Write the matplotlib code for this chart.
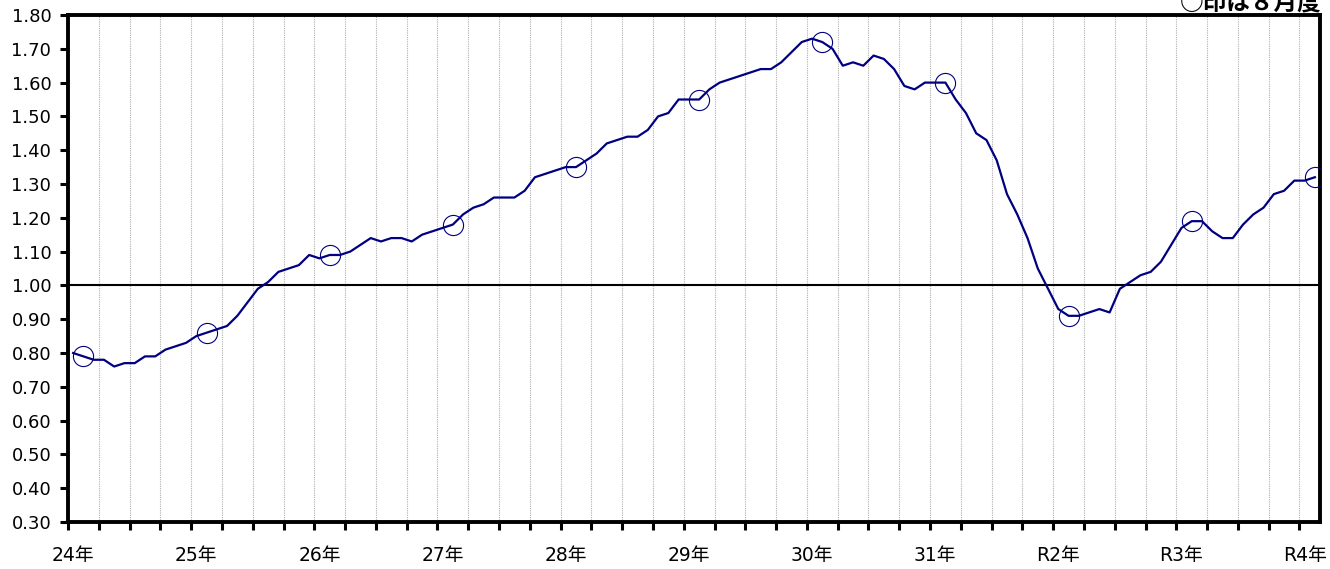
#!/usr/bin/env python3

import numpy as np
import pandas as pd
import matplotlib.pyplot as plt

# monthly ratio, from H24.7 to R4.8
values = [
    0.80, 0.79, 0.78, 0.78, 0.76, 0.77, 0.77, 0.79, 0.79, 0.81,
    0.82, 0.83, 0.85, 0.86, 0.87, 0.88, 0.91, 0.95, 0.99, 1.01,
    1.04, 1.05, 1.06, 1.09, 1.08, 1.09, 1.09, 1.10, 1.12, 1.14,
    1.13, 1.14, 1.14, 1.13, 1.15, 1.16, 1.17, 1.18, 1.21, 1.23,
    1.24, 1.26, 1.26, 1.26, 1.28, 1.32, 1.33, 1.34, 1.35, 1.35,
    1.37, 1.39, 1.42, 1.43, 1.44, 1.44, 1.46, 1.50, 1.51, 1.55,
    1.55, 1.55, 1.58, 1.60, 1.61, 1.62, 1.63, 1.64, 1.64, 1.66,
    1.69, 1.72, 1.73, 1.72, 1.70, 1.65, 1.66, 1.65, 1.68, 1.67,
    1.64, 1.59, 1.58, 1.60, 1.60, 1.60, 1.55, 1.51, 1.45, 1.43,
    1.37, 1.27, 1.21, 1.14, 1.05, 0.99, 0.93, 0.91, 0.91, 0.92,
    0.93, 0.92, 0.99, 1.01, 1.03, 1.04, 1.07, 1.12, 1.17, 1.19,
    1.19, 1.16, 1.14, 1.14, 1.18, 1.21, 1.23, 1.27, 1.28, 1.31,
    1.31, 1.32,
]
year_labels = ['24年', '25年', '26年', '27年', '28年', '29年',
               '30年', '31年', 'R2年', 'R3年', 'R4年']
note = '○印は８月度'

months = pd.date_range('2012-07-01', periods=len(values), freq='MS')
x = np.arange(len(values))
vals = np.array(values)
aug = months.month == 8

FAM = ['DejaVu Sans', 'Noto Sans CJK JP']
navy = '#000080'

fig = plt.figure(figsize=(13.3, 5.69), dpi=100)
ax = fig.add_axes([68 / 1330, 47 / 569, 1252 / 1330, 507 / 569])

ax.plot(x, vals, '-', color=navy, linewidth=1.6, zorder=3)
ax.plot(x[aug], vals[aug], 'o', markersize=14.5, markerfacecolor='none',
        markeredgecolor=navy, markeredgewidth=0.8, zorder=4)
ax.axhline(1.0, color='black', linewidth=1.5, zorder=2)

ax.set_xlim(-0.5, len(values) - 0.5)
ax.set_ylim(0.30, 1.80)

# quarter ticks + dotted grid
qt = np.arange(-0.5, len(values) - 0.5, 3)
ax.set_xticks(qt)
ax.set_xticklabels([])
ax.grid(axis='x', which='major', color='#b0b0b0', linestyle=(0, (1, 1)),
        linewidth=0.8, zorder=1)
ax.tick_params(axis='x', which='major', direction='out', length=6,
               width=2.2, color='black')

ax.set_xticks(np.arange(0, len(values), 12), year_labels, minor=True)
ax.tick_params(axis='x', which='minor', length=0, pad=17)
for t in ax.get_xticklabels(minor=True):
    t.set_family(FAM)
    t.set_fontsize(13.5)

yt = np.round(np.arange(0.30, 1.801, 0.10), 2)
ax.set_yticks(yt, [f'{v:.2f}' for v in yt])
ax.tick_params(axis='y', direction='out', length=6, width=2.2, pad=6)
for t in ax.get_yticklabels():
    t.set_family(FAM)
    t.set_fontsize(13)

for s in ax.spines.values():
    s.set_linewidth(2.8)
    s.set_color('black')

fig.text(1322 / 1330, 1 - 10 / 569, note, ha='right', va='baseline',
         fontsize=17, fontweight='bold', family=['Noto Sans CJK JP', 'DejaVu Sans'])

fig.savefig('out.png', dpi=100)
